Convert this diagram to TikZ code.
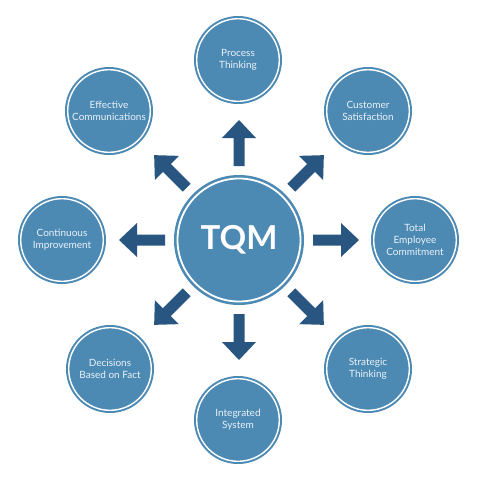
\documentclass[tikz,border=0pt]{standalone}
\usepackage{fontspec}
\setmainfont{Lato}
\definecolor{cfill}{RGB}{76,138,180}
\definecolor{carrow}{RGB}{40,86,128}
\definecolor{ctext}{RGB}{235,242,248}
\tikzset{
  sat/.style={circle, fill=cfill, minimum size=88pt, inner sep=0pt, align=center,
    text=ctext, font=\fontsize{10}{12}\selectfont,
    path picture={\draw[white, line width=1.4pt] (path picture bounding box.center) circle (41.3pt);}},
  hub/.style={circle, fill=cfill, minimum size=130pt, inner sep=0pt,
    text=white, font=\fontsize{33}{36}\selectfont\bfseries,
    path picture={\draw[white, line width=1.8pt] (path picture bounding box.center) circle (61.5pt);}},
  bigarrow/.style={fill=carrow, draw=none}
}
\newcommand{\myarrow}[1]{%
  \fill[carrow, rotate=#1] (74pt,-5.5pt) -- (102pt,-5.5pt) -- (102pt,-17pt) -- (120pt,0pt) -- (102pt,17pt) -- (102pt,5.5pt) -- (74pt,5.5pt) -- cycle;}
\begin{document}
\begin{tikzpicture}[x=1pt,y=-1pt]
\useasboundingbox (0,0) rectangle (478,480);
\fill[white] (0,0) rectangle (478,480);
\node[hub] (tqm) at (239,240) {TQM};
\node[sat] (pt) at (238,60) {Process\\Thinking};
\node[sat] (cs) at (368,111) {Customer\\Satisfaction};
\node[sat] (te) at (415,240) {Total\\Employee\\Commitment};
\node[sat] (st) at (368,369) {Strategic\\Thinking};
\node[sat] (is) at (238,420) {Integrated\\System};
\node[sat] (df) at (110,369) {Decisions\\Based on Fact};
\node[sat] (ci) at (62,240) {Continuous\\Improvement};
\node[sat] (ec) at (109,111) {Effective\\Communications};
\begin{scope}[shift={(tqm.center)}, y=1pt]
\myarrow{0}
\myarrow{45}
\myarrow{90}
\myarrow{135}
\myarrow{180}
\myarrow{225}
\myarrow{270}
\myarrow{315}
\end{scope}
\end{tikzpicture}
\end{document}
